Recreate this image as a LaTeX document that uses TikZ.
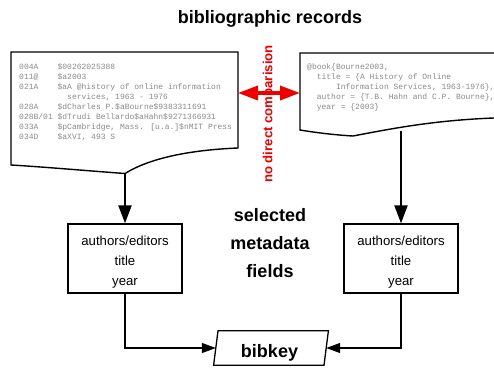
\documentclass[tikz,border=0pt]{standalone}
\usepackage{fontspec}
\setmainfont{Liberation Sans}
\newfontfamily\codefont{Liberation Mono}
\usetikzlibrary{arrows.meta,calc}
\definecolor{codegray}{RGB}{138,138,138}
\definecolor{arrowred}{RGB}{236,0,0}
\begin{document}
\begin{tikzpicture}[x=1pt,y=-1pt,
  bigbold/.style={font=\fontsize{18}{27.8}\selectfont\bfseries, align=center, inner sep=0pt},
  boxtext/.style={font=\fontsize{13.2}{20}\selectfont, align=center, inner sep=0pt},
  field/.style={draw, line width=1.3pt, minimum width=114pt, minimum height=69pt, inner sep=0pt},
  code/.style={font=\codefont\fontsize{8}{10}\selectfont, text=codegray, align=left, anchor=north west, inner sep=0pt},
  doc/.style={draw, line width=1.4pt, fill=white},
  feed/.style={line width=2.2pt, -{Triangle[length=18pt,width=13pt]}},
  joinline/.style={line width=1.3pt, -{Triangle[length=14pt,width=10pt]}},
  redtext/.style={font=\fontsize{13.2}{15}\selectfont\bfseries, text=arrowred, rotate=90, inner sep=0pt},
  redarrow/.style={draw=arrowred, line width=3.5pt, {Triangle[length=20pt,width=14pt]}-{Triangle[length=20pt,width=14pt]}},
]
\useasboundingbox (0,0) rectangle (494,369);
\clip (0,0) rectangle (494,369);

% title
\node[bigbold, anchor=base] (title) at (270,24) {bibliographic records};

% left document
\draw[doc] (11,52) -- (238,52) -- (238,148)
  .. controls (190,150) and (150,158) .. (125,173.5)
  .. controls (90,171) and (45,167) .. (11,165) -- cycle;
\coordinate (ldoc) at (125,173.5);
\coordinate (ldocE) at (238,93);
\node[code] (lcode) at (19,63.2) {%
004A~~~~\$00262025388\\
011@~~~~\$a2003\\
021A~~~~\$aA @history of online information\\
~~~~~~~~~~services, 1963 - 1976\\
028A~~~~\$dCharles P.\$aBourne\$9383311691\\
028B/01~\$dTrudi Bellardo\$aHahn\$9271366931\\
033A~~~~\$pCambridge, Mass. [u.a.]\$nMIT Press\\
034D~~~~\$aXVI, 493 S};

% right document
\draw[doc] (300,53) -- (510,53) -- (510,117.5)
  .. controls (440,119) and (395,128) .. (353,136)
  .. controls (335,135) and (315,132.5) .. (300,130) -- cycle;
\coordinate (rdoc) at (401,131);
\coordinate (rdocW) at (300,93);
\node[code] (rcode) at (307,63.2) {%
@book\{Bourne2003,\\
~~title = \{A History of Online\\
~~~~~~Information Services, 1963-1976\},\\
~~author = \{T.B. Hahn and C.P. Bourne\},\\
~~year = \{2003\}};

% no direct comparison
\node[redtext] (nodirect) at (269,114) {no direct comparision};
\draw[redarrow] (ldocE) -- (rdocW);

% selected fields
\node[field] (lbox) at (125,258.5) {};
\node[boxtext] (ltext) at (125,261.6) {authors/editors\\title\\year};
\node[field] (rbox) at (401,258.5) {};
\node[boxtext] (rtext) at (401,261.6) {authors/editors\\title\\year};
\node[bigbold] (sel) at (270,242.8) {selected\\metadata\\fields};

\draw[feed] (ldoc) -- (lbox.north);
\draw[feed] (rdoc) -- (rbox.north);

% bibkey
\node[minimum width=110pt, minimum height=34pt, inner sep=0pt] (bk) at (271,348) {};
\draw[line width=1.3pt] ($(bk.south west)+(-2.2,0)$) -- ($(bk.north west)+(2.2,0)$)
  -- ($(bk.north east)+(2.2,0)$) -- ($(bk.south east)+(-2.2,0)$) -- cycle;
\node[bigbold, anchor=base] (bklabel) at (269.5,357) {bibkey};

\draw[joinline] (lbox.south) |- (bk.west);
\draw[joinline] (rbox.south) |- (bk.east);
\end{tikzpicture}
\end{document}
